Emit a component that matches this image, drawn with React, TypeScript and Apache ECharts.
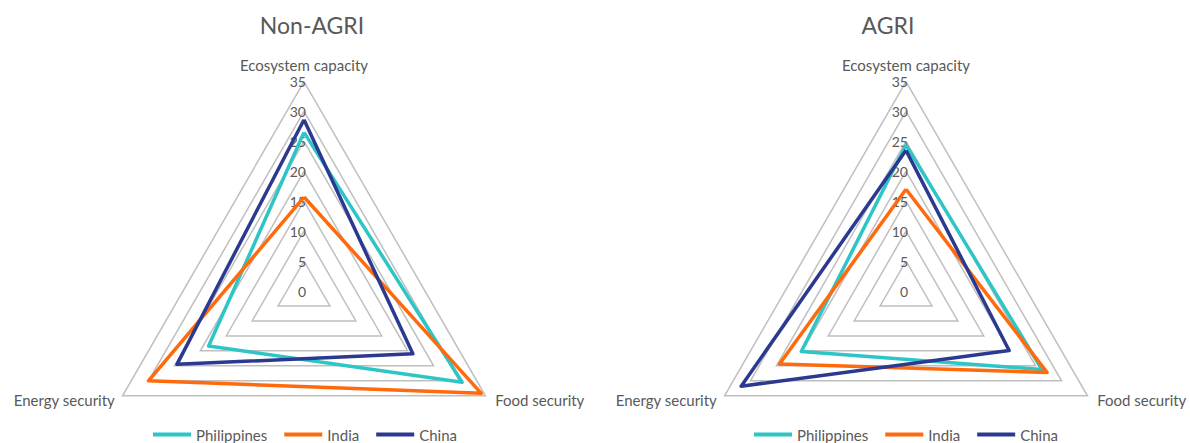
import React, { useEffect, useRef } from 'react';
import * as echarts from 'echarts';

const indicators = ['Ecosystem capacity', 'Energy security', 'Food security'];
const countries = ['Philippines', 'India', 'China'];
const colors = ['#2DC5C6', '#FF6A0D', '#2B3990'];
const titles = ['Non-AGRI', 'AGRI'];

// values in order: Ecosystem capacity, Energy security, Food security
const nonAgriPhilippines = [26.5, 18.4, 30.5];
const nonAgriIndia = [15.7, 30.0, 34.2];
const nonAgriChina = [28.6, 24.5, 21.0];

const agriPhilippines = [24.4, 20.2, 26.2];
const agriIndia = [17.0, 24.4, 27.2];
const agriChina = [23.5, 31.8, 19.9];

const scaleMax = 35;
const scaleStep = 5;

export default function App() {
  const ref = useRef<HTMLDivElement>(null);
  useEffect(() => {
    const chart = echarts.init(ref.current!, null, { renderer: 'svg' });
    const font = 'Lato, "Open Sans", sans-serif';
    const grey = '#595959';
    const makeRadar = (center: number[]) => ({
      center,
      radius: 209.5,
      shape: 'polygon',
      splitNumber: scaleMax / scaleStep,
      indicator: indicators.map((name, i) => ({
        name,
        min: 0,
        max: scaleMax,
        ...(i === 0 ? { axisLabel: { show: true } } : {}),
      })),
      nameGap: 2,
      axisName: {
        color: grey,
        fontFamily: font,
        fontSize: 15,
        formatter: (name: string) =>
          name === indicators[0]
            ? `{top|${name}}`
            : name === indicators[1]
            ? `{lft|${name}}`
            : `{rgt|${name}}`,
        rich: {
          top: { color: grey, fontFamily: font, fontSize: 15, padding: [0, 0, 7, 0] },
          lft: { color: grey, fontFamily: font, fontSize: 15, padding: [7, 6, 0, 0] },
          rgt: { color: grey, fontFamily: font, fontSize: 15, padding: [7, 0, 0, 8] },
        },
      },
      axisLine: { show: false },
      axisTick: { show: false },
      axisLabel: {
        show: false,
        color: grey,
        fontSize: 14,
        fontFamily: font,
        margin: -2,
        padding: [6, 0, 0, 0],
      },
      splitLine: { lineStyle: { color: '#BFBFBF', width: 1.5 } },
      splitArea: { show: false },
    });
    const makeData = (rows: number[][]) =>
      countries.map((c, i) => ({
        name: c,
        value: rows[i],
        lineStyle: { color: colors[i], width: 3.5 },
        itemStyle: { color: colors[i] },
      }));
    const legendBase = {
      data: countries,
      icon: 'rect',
      itemWidth: 38,
      itemHeight: 4,
      itemGap: 17,
      padding: 0,
      top: 427,
      textStyle: { color: grey, fontSize: 15, fontFamily: font },
    };
    const titleStyle = { fontSize: 23, fontWeight: 'normal', color: grey, fontFamily: font };
    chart.setOption({
      animation: false,
      title: [
        { text: titles[0], left: 307, top: 8, textAlign: 'center', textStyle: titleStyle },
        { text: titles[1], left: 883, top: 8, textAlign: 'center', textStyle: titleStyle },
      ],
      legend: [
        { ...legendBase, left: 153 },
        { ...legendBase, left: 754 },
      ],
      radar: [makeRadar([304, 291]), makeRadar([906, 291])],
      series: [
        {
          type: 'radar',
          radarIndex: 0,
          symbol: 'none',
          data: makeData([nonAgriPhilippines, nonAgriIndia, nonAgriChina]),
        },
        {
          type: 'radar',
          radarIndex: 1,
          symbol: 'none',
          data: makeData([agriPhilippines, agriIndia, agriChina]),
        },
      ],
    });
    return () => chart.dispose();
  }, []);
  return (
    <div
      ref={ref}
      style={{ position: 'absolute', left: 0, top: 0, width: 1190, height: 443, background: '#fff' }}
    />
  );
}
